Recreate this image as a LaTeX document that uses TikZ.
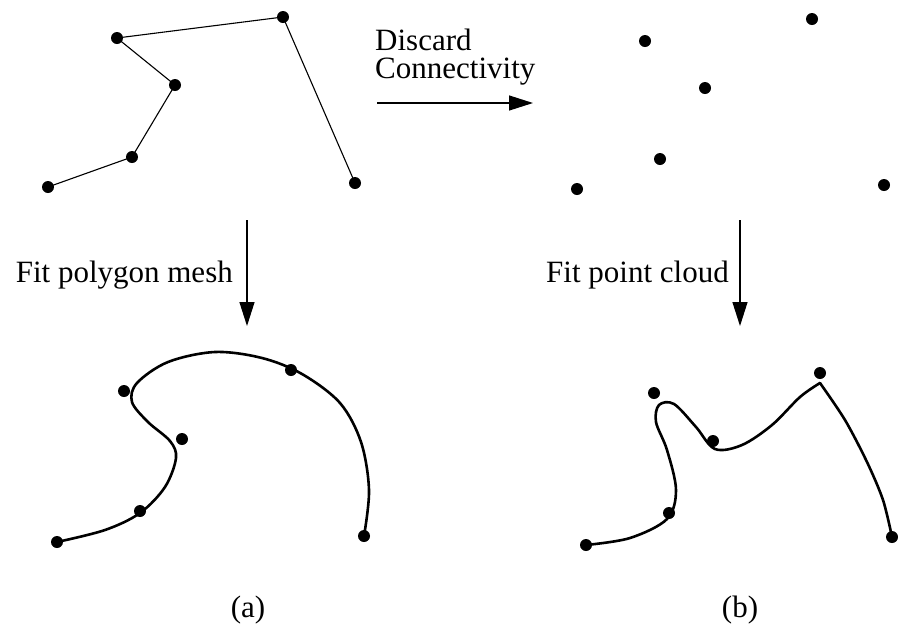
\documentclass[tikz,border=0pt]{standalone}
\usepackage{fontspec}
\setmainfont{Liberation Serif}
\usetikzlibrary{arrows.meta}
\begin{document}
\begin{tikzpicture}[x=1pt,y=-1pt,
  dot/.style={circle,fill=black,inner sep=0pt,minimum size=12pt},
  thin line/.style={line width=1.1pt},
  fit curve/.style={line width=2.6pt,line cap=round,line join=round},
  flow/.style={line width=1.3pt,-{Triangle[length=24pt,width=15pt]}},
  lbl/.style={font=\fontsize{31}{28}\selectfont,inner sep=0pt}]
\useasboundingbox (0,0) rectangle (898,641);

% polygon mesh (top left)
\node[dot] (p1) at (48,187) {};
\node[dot] (p2) at (132,157) {};
\node[dot] (p3) at (175,85) {};
\node[dot] (p4) at (117,38) {};
\node[dot] (p5) at (283,17) {};
\node[dot] (p6) at (355,183) {};
\draw[thin line] (p1.center) -- (p2.center) -- (p3.center) -- (p4.center) -- (p5.center) -- (p6.center);

% point cloud (top right)
\node[dot] (q1) at (645,41) {};
\node[dot] (q2) at (812,19) {};
\node[dot] (q3) at (705,88) {};
\node[dot] (q4) at (660,159) {};
\node[dot] (q5) at (577,189) {};
\node[dot] (q6) at (884,185) {};

% discard connectivity
\coordinate (h1) at (377,103);
\coordinate (h2) at (533,103);
\draw[flow] (h1) -- (h2);
\node[lbl,anchor=base west,align=left] (discard) at (375,78) {Discard\\Connectivity};

% downward arrows
\coordinate (va1) at (247,220);
\coordinate (va2) at (247,326);
\coordinate (vb1) at (740,220);
\coordinate (vb2) at (740,326);
\draw[flow] (va1) -- (va2);
\draw[flow] (vb1) -- (vb2);
\node[lbl,anchor=base east] (fitmesh) at (233,282) {Fit polygon mesh};
\node[lbl,anchor=base east] (fitcloud) at (729,282) {Fit point cloud};

% fitted curve (a)
\draw[fit curve] plot[smooth,tension=0.55] coordinates {
  (57,542) (105,530) (140,513) (165,487) (176,458) (170,441) (148,422)
  (132,402) (137,383) (168,362) (215,352) (262,358) (302,374) (340,403)
  (361,442) (369,490) (364,536)};
\node[dot] (a1) at (57,542) {};
\node[dot] (a2) at (140,511) {};
\node[dot] (a3) at (182,439) {};
\node[dot] (a4) at (124,391) {};
\node[dot] (a5) at (291,370) {};
\node[dot] (a6) at (364,536) {};

% fitted curve (b)
\draw[fit curve] plot[smooth,tension=0.55] coordinates {
  (586,545) (630,538) (667,519) (676,490) (667,450) (656,422) (659,405)
  (674,404) (696,427) (715,449) (742,445) (772,425) (800,397) (820,383)};
\draw[fit curve] plot[smooth,tension=0.5] coordinates {
  (820,383) (845,420) (867,462) (883,500) (892,537)};
\node[dot] (b1) at (586,545) {};
\node[dot] (b2) at (669,513) {};
\node[dot] (b3) at (713,441) {};
\node[dot] (b4) at (654,393) {};
\node[dot] (b5) at (820,373) {};
\node[dot] (b6) at (892,537) {};

% captions
\node[lbl,anchor=base] (capa) at (248,617) {(a)};
\node[lbl,anchor=base] (capb) at (740,617) {(b)};
\end{tikzpicture}
\end{document}
